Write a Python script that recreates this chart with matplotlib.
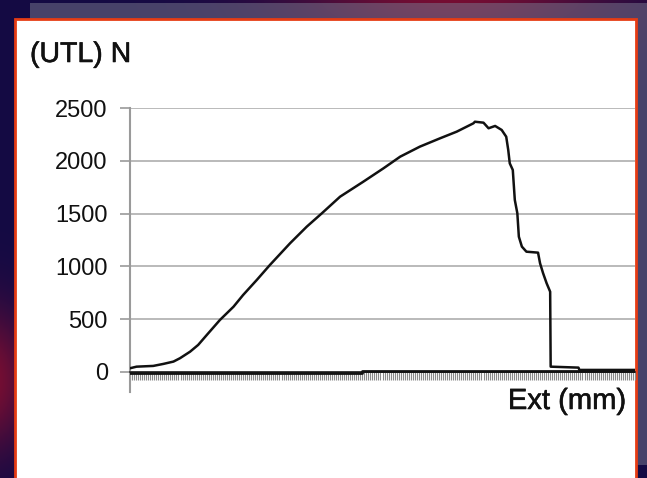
import numpy as np
import matplotlib.pyplot as plt
import matplotlib.patheffects as pe
from matplotlib.patches import Rectangle

plt.rcParams['font.family'] = ['Liberation Sans', 'DejaVu Sans']

# load curve read from the tensile test (extension in mm, force in N)
ext_mm = [0.00, 0.13, 0.46, 0.66, 0.86, 0.99, 1.19, 1.35, 1.52, 1.78, 2.05,
          2.24, 2.51, 2.77, 3.17, 3.50, 3.80, 4.16, 4.62, 5.02, 5.35, 5.74,
          6.14, 6.47, 6.80, 6.83, 7.00, 7.10, 7.23, 7.36, 7.45, 7.49, 7.52,
          7.58, 7.62, 7.67, 7.70, 7.76, 7.85, 8.08, 8.12, 8.18, 8.25, 8.32,
          8.33, 8.88, 8.90, 10.0]
force_n = [35, 50, 57, 76, 98, 130, 192, 256, 350, 492, 618,
           729, 871, 1013, 1219, 1376, 1503, 1660, 1802, 1929, 2039, 2134,
           2213, 2276, 2355, 2370, 2361, 2308, 2330, 2292, 2228, 2102, 1976,
           1913, 1629, 1503, 1281, 1187, 1139, 1130, 1029, 935, 840, 760,
           50, 41, 19, 19]

# return trace along the zero line
base_ext = [0.0, 4.6, 4.6, 10.0]
base_force = [-12, -12, 8, 8]

y_ticks = [0, 500, 1000, 1500, 2000, 2500]

W, H = 647, 478
fig = plt.figure(figsize=(W / 100, H / 100), dpi=100)

# slide background
bg = fig.add_axes([0, 0, 1, 1])
bg.set_xlim(0, W)
bg.set_ylim(H, 0)
bg.axis('off')
yy, xx = np.mgrid[0:H, 0:W]
navy = np.array([20, 10, 68]) / 255
maroon = np.array([120, 14, 50]) / 255
w1 = np.exp(-(((xx - 450) / 160) ** 2 + ((yy + 10) / 60) ** 2))
w2 = np.exp(-(((xx + 10) / 40) ** 2 + ((yy - 380) / 70) ** 2))
w = np.clip(w1 + w2, 0, 1)[..., None]
img = navy * (1 - w) + maroon * w
bg.imshow(img, extent=(0, W, H, 0), aspect='auto', zorder=0)
bg.add_patch(Rectangle((30, 3), W - 30, 462, facecolor='#7a7a90',
                       alpha=0.5, edgecolor='none', zorder=1))
bg.add_patch(Rectangle((15, 19), 621, 470, facecolor='white',
                       edgecolor='#e63c14', linewidth=2, zorder=2))

# chart
ax = fig.add_axes([130 / W, 1 - 392 / H, 505 / W, 284 / H])
ax.patch.set_alpha(0)
ax.plot(ext_mm, force_n, color='#111111', linewidth=1.8, zorder=3)
ax.plot(base_ext, base_force, color='#111111', linewidth=2.0, zorder=3)
ax.set_xlim(0, 10)
ax.set_ylim(-190, 2500)
ax.set_yticks(y_ticks)
ax.grid(axis='y', color='#b4b4b4', linewidth=1.3)
ax.set_axisbelow(True)

for s in ['top', 'right']:
    ax.spines[s].set_visible(False)
ax.spines['left'].set_color('#9a9a9a')
ax.spines['left'].set_linewidth(1.5)
ax.spines['bottom'].set_position(('data', 0))
ax.spines['bottom'].set_color('#222222')
ax.spines['bottom'].set_linewidth(1.2)

ax.tick_params(axis='y', direction='out', length=7, width=1.2,
               color='#9a9a9a', labelsize=17, pad=9, labelcolor='#111111')
ax.set_xticks([])
ax.set_xticks(np.arange(0, 10.01, 0.04), minor=True)
ax.tick_params(axis='x', which='minor', direction='out', length=6,
               width=0.8, color='#8a8a8a')

heavy = [pe.withStroke(linewidth=0.4, foreground='#111111')]
fig.text(30 / W, 1 - 62 / H, '(UTL) N', fontsize=20.5, color='#111111',
         ha='left', va='baseline', path_effects=heavy)
fig.text(626 / W, 1 - 409 / H, 'Ext (mm)', fontsize=21, color='#111111',
         ha='right', va='baseline', path_effects=heavy)

fig.savefig('out.png', dpi=100)
